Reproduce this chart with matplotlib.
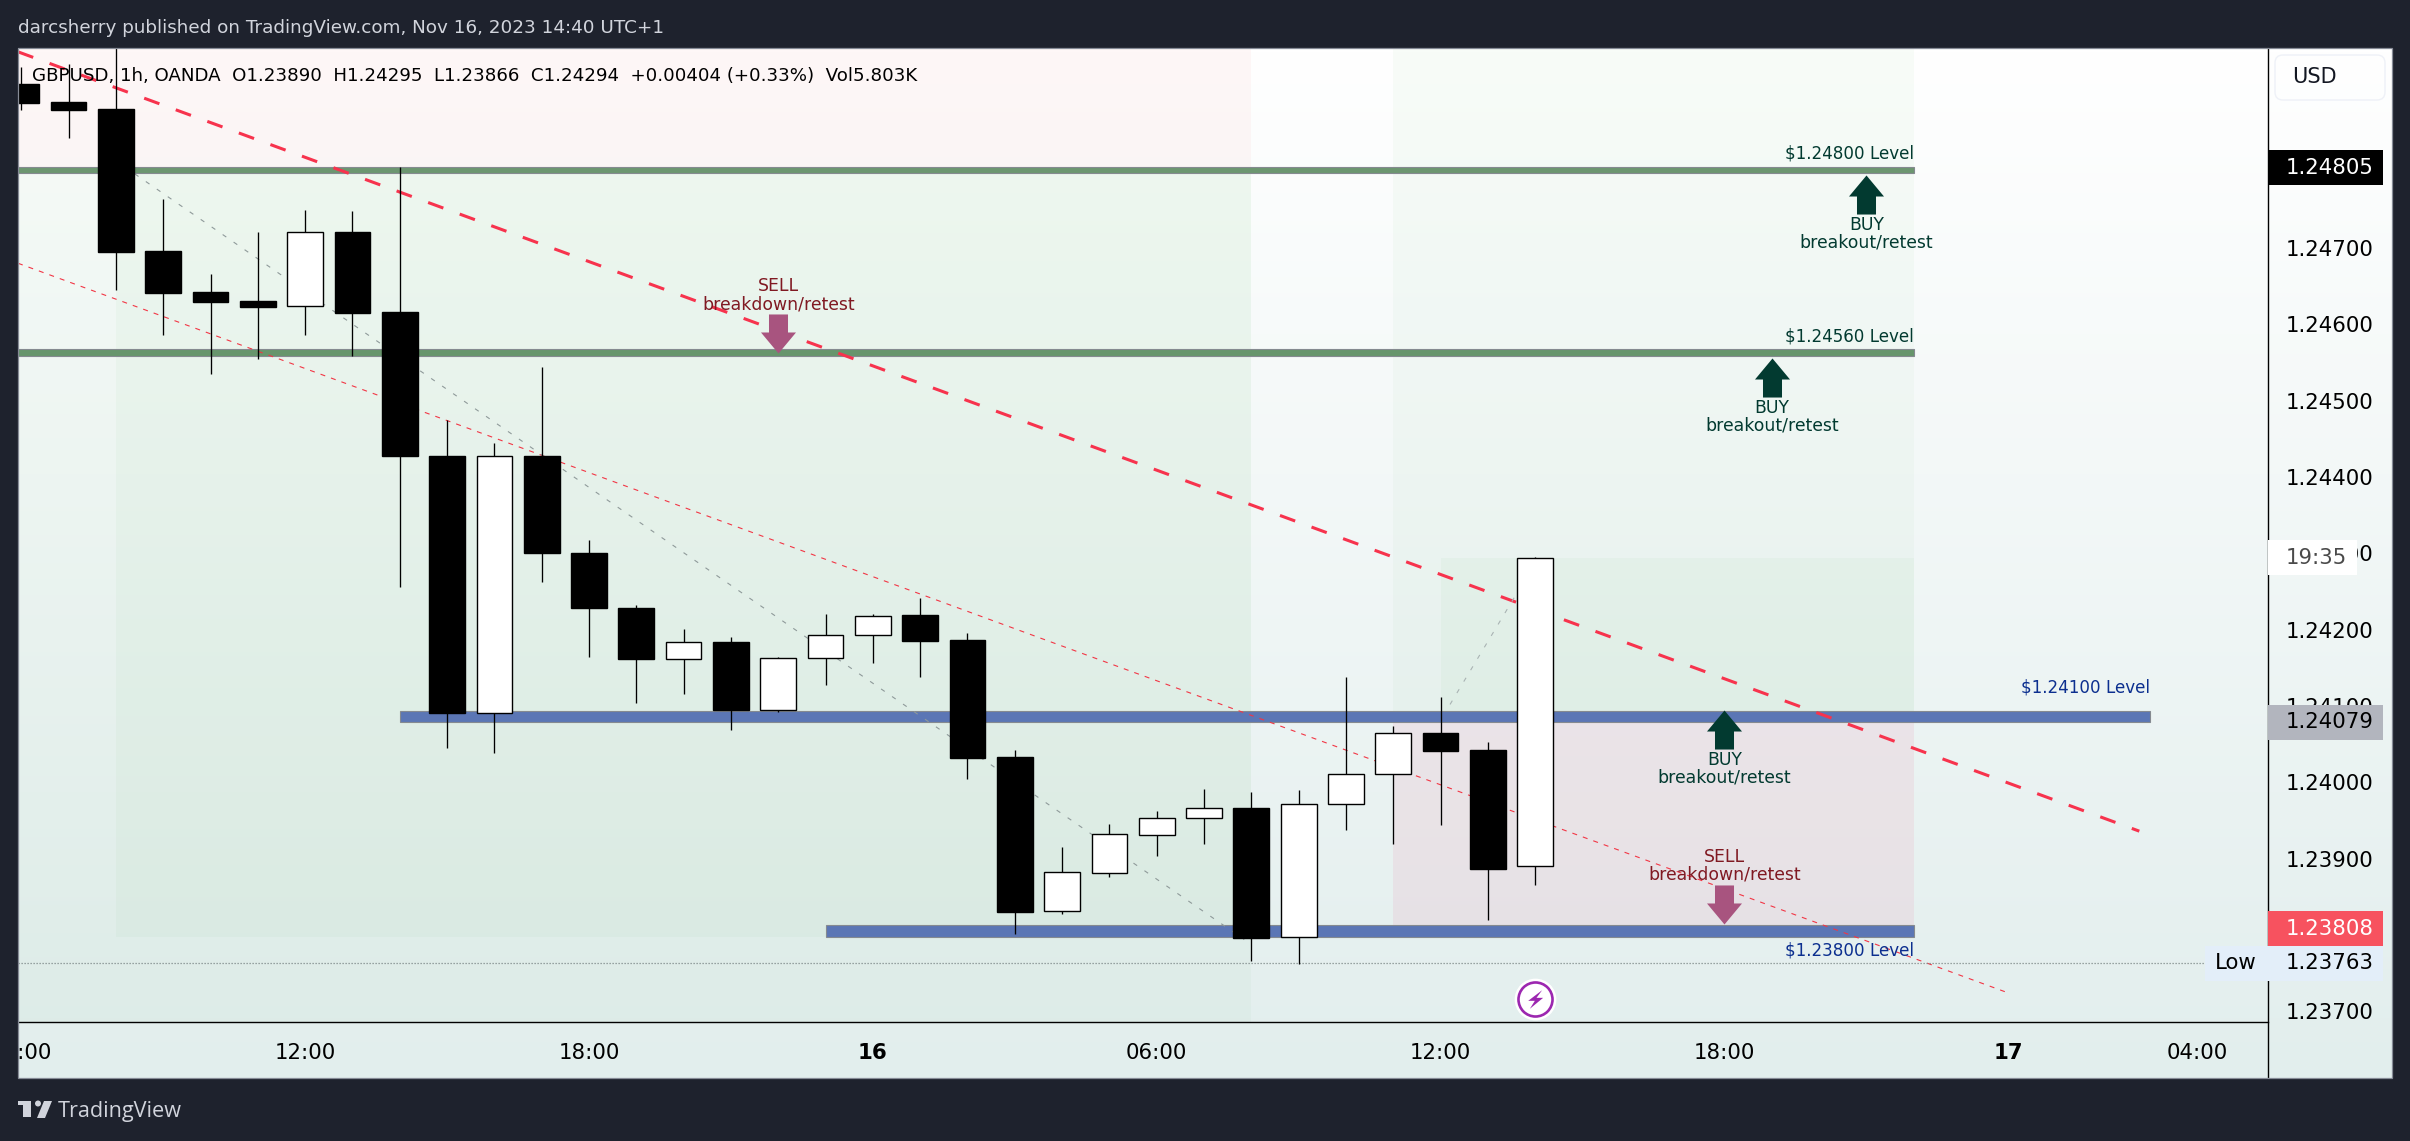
#!/usr/bin/env python
# coding: utf-8

import numpy as np
import matplotlib
matplotlib.use("Agg")
import matplotlib.pyplot as plt
from matplotlib.patches import Rectangle, Polygon, Circle, FancyBboxPatch
from matplotlib.path import Path

W, H = 2410, 1141

# hours since Nov 15 00:00
hours = list(range(6, 39))
opens = [1.24915, 1.24891, 1.24882, 1.24696, 1.24642, 1.24631, 1.24624, 1.24721, 1.24616,
         1.24427, 1.24091, 1.24427, 1.24300, 1.24229, 1.24161, 1.24184, 1.24095, 1.24163,
         1.24193, 1.24219, 1.24186, 1.24033, 1.23831, 1.23881, 1.23931, 1.23953, 1.23967,
         1.23797, 1.23971, 1.24011, 1.24064, 1.24042, 1.23890]
highs = [1.24937, 1.24941, 1.24973, 1.24764, 1.24666, 1.24721, 1.24750, 1.24749, 1.24806,
         1.24475, 1.24444, 1.24544, 1.24317, 1.24232, 1.24201, 1.24190, 1.24164, 1.24220,
         1.24220, 1.24241, 1.24195, 1.24042, 1.23915, 1.23946, 1.23963, 1.23991, 1.23987,
         1.23990, 1.24138, 1.24074, 1.24112, 1.24053, 1.24295]
lows = [1.24881, 1.24844, 1.24645, 1.24586, 1.24535, 1.24555, 1.24586, 1.24558, 1.24256,
        1.24045, 1.24039, 1.24262, 1.24164, 1.24104, 1.24116, 1.24069, 1.24092, 1.24127,
        1.24156, 1.24138, 1.24004, 1.23801, 1.23828, 1.23876, 1.23903, 1.23919, 1.23766,
        1.23762, 1.23937, 1.23919, 1.23944, 1.23819, 1.23866]
closes = [1.24890, 1.24881, 1.24695, 1.24641, 1.24629, 1.24623, 1.24721, 1.24615, 1.24427,
          1.24091, 1.24427, 1.24300, 1.24228, 1.24161, 1.24184, 1.24095, 1.24163, 1.24193,
          1.24218, 1.24185, 1.24032, 1.23830, 1.23882, 1.23932, 1.23953, 1.23967, 1.23796,
          1.23971, 1.24011, 1.24064, 1.24041, 1.23887, 1.24294]

price_ticks = [1.24700, 1.24600, 1.24500, 1.24400, 1.24300, 1.24200, 1.24100, 1.24000, 1.23900, 1.23700]
time_ticks = [6, 12, 18, 24, 30, 36, 42, 48, 52]
time_labels = ["06:00", "12:00", "18:00", "16", "06:00", "12:00", "18:00", "17", "04:00"]

low_price = 1.23763
high_price = 1.24805
last_price = 1.24079
sell_price = 1.23808
bar_close = 1.24294

DARK = "#1e222d"
LIGHT = "#d1d4dc"
FONT = "DejaVu Sans"

plt.rcParams["font.family"] = FONT

fig = plt.figure(figsize=(W / 100, H / 100), dpi=100, facecolor=DARK)


def px_axes(x0, y0, x1, y1, **kw):
    return fig.add_axes([x0 / W, 1 - y1 / H, (x1 - x0) / W, (y1 - y0) / H], **kw)


# panel background
bg = px_axes(18, 48, 2392, 1078, zorder=0)
grad = np.linspace(0, 1, 256).reshape(-1, 1, 1)
top_col = np.array([1.0, 1.0, 1.0]).reshape(1, 1, 3)
bot_col = np.array([226, 238, 237]).reshape(1, 1, 3) / 255
bg.imshow(top_col + grad * (bot_col - top_col), aspect="auto")
bg.axis("off")
# scale separator sits under the badges
sep_x = (2268 - 18) / 2374
bg.plot([sep_x, sep_x], [0, 1], color="black", lw=1.0, transform=bg.transAxes, zorder=3)

ax = px_axes(18, 48, 2268, 1022, zorder=1)
ax.patch.set_alpha(0)
ax.set_xlim(5.93, 53.49)
ax.set_ylim(1.23686, 1.24962)

# shaded zones
zones = [
    (5.9, 32, 1.24805, 1.25000, "#f23645", 0.04),
    (5.9, 32, 1.23000, 1.24805, "#4caf50", 0.035),
    (8, 32, 1.23797, 1.24805, "#4caf50", 0.04),
    (35, 46, 1.24079, 1.25000, "#4caf50", 0.035),
    (36, 46, 1.24079, 1.24294, "#4caf50", 0.045),
    (35, 46, 1.23811, 1.24079, "#e91e63", 0.07),
]
for x0, x1, p0, p1, col, alpha in zones:
    ax.add_patch(Rectangle((x0, p0), x1 - x0, p1 - p0, fc=col, alpha=alpha, lw=0, zorder=1))

# level bands
levels = [
    (5.9, 46, 1.24798, 1.24806, "#6c9670"),
    (5.9, 46, 1.24558, 1.24568, "#67956c"),
    (14, 51, 1.24079, 1.24093, "#5b76b5"),
    (23, 46, 1.23798, 1.23813, "#5b76b5"),
]
for x0, x1, p0, p1, col in levels:
    ax.add_patch(Rectangle((x0, p0), x1 - x0, p1 - p0, fc=col, ec="#858a90", lw=0.8, zorder=2))

# trend lines
ax.plot([5.93, 50.77], [1.24957, 1.23936], color="#f7334d", lw=2.2, dashes=(5.3, 5.7),
        dash_capstyle="butt", zorder=3)
ax.plot([5.93, 47.96], [1.24680, 1.23725], color="#f23645", lw=0.8, dashes=(4.5, 5.5),
        dash_capstyle="butt", zorder=3)
ax.plot([8.4, 31.85], [1.24797, 1.23794], color="#8f9a9a", lw=0.8, dashes=(4, 8),
        dash_capstyle="butt", zorder=3)
ax.plot([36.2, 37.75], [1.24102, 1.24262], color="#a9b3b3", lw=0.8, dashes=(4, 8),
        dash_capstyle="butt", zorder=3)

# session low
ax.plot([5.93, 52.17], [low_price, low_price], color="#7f8a8a", lw=0.9, dashes=(1, 1.4), zorder=3)

# candles
ax.vlines(hours, lows, highs, color="black", lw=0.95, zorder=4)
for h, o, c in zip(hours, opens, closes):
    face = "white" if c >= o else "black"
    ax.bar(h, abs(c - o), bottom=min(o, c), width=0.755, color=face, edgecolor="black",
           lw=1.0, zorder=4.5)

# arrows with labels
up_arrow = Path([(0, 0), (17.5, -21), (9.5, -21), (9.5, -39), (-9.5, -39), (-9.5, -21), (-17.5, -21), (0, 0)],
                closed=True)
down_arrow = Path([(0, 0), (17.5, 21), (9.5, 21), (9.5, 39), (-9.5, 39), (-9.5, 21), (-17.5, 21), (0, 0)],
                  closed=True)
BUY_COL = "#023a30"
SELL_COL = "#a8547f"
SELL_TXT = "#801922"

buy_signals = [(45, 1.24796), (43, 1.24556), (42, 1.24095)]
sell_signals = [(22, 1.24562), (42, 1.23815)]

for h, p in buy_signals:
    ax.plot(h, p, marker=up_arrow, ms=56.2, mfc=BUY_COL, mec="none", zorder=5)
    ax.annotate("BUY", (h, p), xytext=(0, -50 * 0.72), textcoords="offset points", ha="center",
                va="center", fontsize=12.4, color=BUY_COL, zorder=6)
    ax.annotate("breakout/retest", (h, p), xytext=(0, -68 * 0.72), textcoords="offset points",
                ha="center", va="center", fontsize=12.4, color=BUY_COL, zorder=6)
for h, p in sell_signals:
    ax.plot(h, p, marker=down_arrow, ms=56.2, mfc=SELL_COL, mec="none", zorder=5)
    ax.annotate("SELL", (h, p), xytext=(0, 67 * 0.72), textcoords="offset points", ha="center",
                va="center", fontsize=12.4, color=SELL_TXT, zorder=6)
    ax.annotate("breakdown/retest", (h, p), xytext=(0, 49 * 0.72), textcoords="offset points",
                ha="center", va="center", fontsize=12.4, color=SELL_TXT, zorder=6)

# level captions
captions = [
    (46, 1.24800, "$1.24800 Level", BUY_COL, 18),
    (46, 1.24560, "$1.24560 Level", BUY_COL, 18),
    (51, 1.24100, "$1.24100 Level", "#0c2f8f", 18),
    (46, 1.23800, "$1.23800 Level", "#0c2f8f", -16),
]
for h, p, txt, col, dy in captions:
    ax.annotate(txt, (h, p), xytext=(0, dy * 0.72), textcoords="offset points", ha="right",
                va="center", fontsize=12.1, color=col, zorder=6)

# lightning badge under the last bar
ax.plot(38, 1.23716, marker="o", ms=29, mfc="white", mec="white", zorder=6)
ax.plot(38, 1.23716, marker="o", ms=24.5, mfc="none", mec="#9c27b0", mew=1.9, zorder=6.5)
bolt = Path([(20, 28), (-22, -4), (-2, -4), (-17, -28), (23, 5), (3, 5), (20, 28)], closed=True)
ax.plot(38, 1.23716, marker=bolt, ms=13.4, mfc="#9c27b0", mec="none", zorder=7)

# axes
for side in ["top", "left", "right", "bottom"]:
    ax.spines[side].set_visible(False)
ax.spines["bottom"].set_visible(True)
ax.spines["bottom"].set_linewidth(1.0)
ax.yaxis.tick_right()
ax.set_yticks(price_ticks)
ax.set_yticklabels([f"{p:.5f}" for p in price_ticks], fontsize=15.3, color="black")
ax.tick_params(axis="y", length=0, pad=13)
ax.set_xticks(time_ticks)
ax.set_xticklabels(time_labels, fontsize=15.3, color="black")
ax.tick_params(axis="x", length=0, pad=15)
for lbl in ax.get_xticklabels():
    if lbl.get_text() in ("16", "17"):
        lbl.set_fontweight("bold")

# price badges on the scale
ytrans = ax.get_yaxis_transform()
badge_h = 35 / 76300
scale_w = 115 / 2250
text_x = 1 + 18 / 2250


def badge(price, text, fc, tc, width=scale_w, x0=1.0, tx=text_x):
    ax.add_patch(Rectangle((x0, price - badge_h / 2), width, badge_h, fc=fc, lw=0, transform=ytrans,
                           clip_on=False, zorder=10))
    ax.text(tx, price, text, transform=ytrans, ha="left", va="center", fontsize=15.3, color=tc,
            clip_on=False, zorder=11)


badge(high_price, f"{high_price:.5f}", "black", "white")
badge(bar_close, "19:35", "white", "#4a4a4a", width=89 / 2250)
badge(last_price, f"{last_price:.5f}", "#b2b5be", "black")
badge(low_price, f"{low_price:.5f}", "#e3eef9", "black", width=178 / 2250, x0=1 - 63 / 2250)
ax.text(1 - 32 / 2250, low_price, "Low", transform=ytrans, ha="center", va="center", fontsize=15.3,
        color="black", clip_on=False, zorder=11)
badge(sell_price, f"{sell_price:.5f}", "#f7525f", "white")

# page chrome in pixel coordinates
top = px_axes(0, 0, W, H, zorder=5)
top.set_xlim(0, W)
top.set_ylim(H, 0)
top.axis("off")
top.patch.set_alpha(0)

top.add_patch(Rectangle((0, 0), 18, H, fc=DARK, lw=0))
top.add_patch(Rectangle((18, 48), 2374, 1030, fc="none", ec="#868b96", lw=0.9))

top.add_patch(FancyBboxPatch((2279, 59), 102, 37, boxstyle="round,pad=4,rounding_size=8", fc="none",
                             ec="#eef1f7", lw=1.0))
top.text(2292, 77, "USD", ha="left", va="center", fontsize=15, color="#131722")

top.text(18, 28, "darcsherry published on TradingView.com, Nov 16, 2023 14:40 UTC+1", ha="left",
         va="center", fontsize=13.2, color=LIGHT)
top.text(32, 76, "GBPUSD, 1h, OANDA  O1.23890  H1.24295  L1.23866  C1.24294  +0.00404 (+0.33%)  Vol5.803K",
         ha="left", va="center", fontsize=13.15, color="black", zorder=3)

# logo
top.add_patch(Polygon([(18, 1101), (31, 1101), (31, 1117), (23, 1117), (23, 1105), (18, 1105)], fc=LIGHT, lw=0))
top.add_patch(Circle((38, 1103.5), 3, fc=LIGHT, lw=0))
top.add_patch(Polygon([(44, 1101), (52, 1101), (45, 1118), (37, 1118)], fc=LIGHT, lw=0))
top.text(58, 1111, "TradingView", ha="left", va="center", fontsize=15.6, family="Open Sans", color=LIGHT)

fig.savefig("out.png", dpi=100, facecolor=DARK)
plt.close(fig)
